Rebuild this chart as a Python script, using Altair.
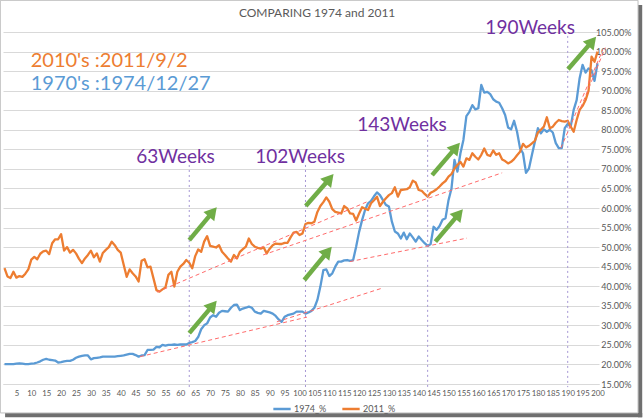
import altair as alt
import pandas as pd

# ---------------- data ----------------
weeks = list(range(1, 201))

s2011 = [
    44.6, 42.5, 42.1, 43.7, 42.2, 42.6, 42.4, 43.2, 44.3, 46.8,
    47.5, 46.9, 48.3, 48.9, 49.1, 48.2, 51.0, 52.0, 52.0, 53.3,
    49.1, 50.0, 48.6, 49.3, 48.4, 47.0, 45.9, 47.1, 48.0, 49.1,
    47.4, 48.4, 46.3, 48.5, 49.3, 50.0, 51.4, 50.5, 49.3, 48.6,
    45.5, 42.4, 44.3, 43.3, 42.5, 41.2, 46.5, 46.9, 44.8, 45.0,
    42.0, 39.0, 38.6, 39.2, 39.7, 42.9, 43.7, 39.9, 43.7, 45.0,
    45.7, 46.7, 46.0, 44.6, 47.7, 49.4, 48.8, 51.4, 52.8, 50.3,
    50.1, 49.9, 50.5, 48.8, 48.0, 47.1, 46.3, 48.0, 47.1, 48.8,
    49.5, 50.1, 52.2, 50.8, 50.1, 49.8, 49.6, 49.9, 48.4, 49.6,
    50.5, 50.9, 50.8, 50.8, 51.1, 51.1, 52.5, 53.7, 53.9, 53.1,
    53.5, 55.9, 56.2, 56.1, 56.5, 59.0, 60.5, 61.5, 62.7, 61.6,
    59.7, 59.0, 58.8, 58.6, 60.5, 59.9, 58.6, 58.5, 56.8, 58.6,
    60.2, 59.8, 59.5, 61.2, 62.0, 62.9, 60.5, 61.6, 62.5, 63.3,
    63.8, 65.3, 62.9, 64.6, 64.7, 64.8, 65.3, 67.0, 66.5, 64.6,
    64.4, 63.6, 62.9, 63.9, 64.3, 64.8, 65.5, 66.3, 66.9, 68.0,
    68.7, 70.1, 71.0, 71.8, 70.6, 72.7, 72.3, 74.0, 73.1, 72.4,
    73.6, 75.2, 73.6, 73.3, 74.7, 73.6, 74.0, 72.4, 72.0, 71.4,
    71.8, 72.5, 73.5, 74.4, 76.4, 75.5, 75.9, 76.5, 77.2, 79.3,
    80.0, 80.8, 83.2, 80.4, 80.8, 81.8, 82.5, 82.2, 82.1, 82.3,
    80.8, 79.5, 82.5, 85.1, 86.1, 87.6, 90.0, 98.7, 97.4, 100.0,
]

s1974 = [
    20.1, 20.1, 20.1, 20.1, 20.2, 20.3, 20.2, 20.1, 20.1, 20.2,
    20.3, 20.5, 20.8, 21.2, 21.4, 21.2, 21.1, 21.0, 20.5, 20.6,
    20.8, 20.9, 20.9, 21.2, 21.7, 22.0, 22.2, 22.3, 22.3, 21.3,
    21.6, 21.7, 21.8, 22.0, 22.0, 22.0, 22.0, 22.0, 22.1, 22.2,
    22.3, 22.5, 22.7, 22.7, 22.4, 22.0, 22.3, 22.4, 23.7, 23.7,
    23.8, 24.5, 24.4, 25.0, 24.8, 25.0, 25.0, 25.1, 25.0, 25.1,
    25.1, 25.1, 25.5, 25.7, 26.0, 27.0, 29.0, 30.0, 30.5, 32.0,
    32.6, 32.2, 33.2, 33.7, 33.6, 33.5, 34.5, 35.2, 35.3, 33.9,
    34.3, 34.5, 34.8, 34.5, 33.5, 33.2, 33.0, 33.7, 33.5, 33.3,
    33.0, 32.4, 31.5, 30.9, 32.2, 32.6, 32.8, 33.0, 33.5, 33.5,
    33.5, 33.0, 33.3, 33.7, 34.5, 36.5, 39.9, 44.1, 44.3, 42.6,
    43.3, 45.0, 46.3, 46.3, 46.6, 46.7, 46.5, 46.7, 50.1, 53.9,
    56.9, 59.5, 61.2, 61.8, 63.0, 64.0, 63.3, 62.0, 60.8, 60.4,
    56.5, 54.0, 53.5, 52.2, 53.7, 52.0, 53.5, 52.5, 51.4, 52.7,
    51.8, 51.0, 50.3, 50.8, 55.2, 54.4, 55.4, 57.0, 57.4, 62.0,
    65.0, 72.3, 69.3, 74.0, 77.4, 83.5, 84.6, 86.3, 85.2, 85.5,
    91.5, 89.5, 89.7, 89.1, 87.8, 87.2, 86.9, 85.5, 83.8, 80.6,
    80.1, 82.3, 79.5, 75.3, 74.0, 69.0, 70.1, 73.6, 77.0, 80.4,
    79.1, 80.1, 79.5, 80.0, 79.3, 76.6, 75.3, 75.3, 80.4, 81.5,
    80.8, 85.1, 87.6, 93.2, 96.6, 94.6, 95.7, 95.2, 92.5, 97.0,
]

series_names = ["1974_%", "2011_%"]
series_colors = ["#5B9BD5", "#ED7D31"]

x_ticks = list(range(5, 201, 5))
y_ticks = list(range(15, 106, 5))

# marker weeks and their labels
mark_weeks = [63, 102, 143, 190]
mark_tops = [71.0, 71.0, 78.7, 104.0]
mark_texts = ["63Weeks", "102Weeks", "143Weeks", "190Weeks"]
mark_text_x = [58.4, 100.2, 134.4, 177.4]
mark_text_y = [73.0, 73.0, 81.2, 106.0]

# green arrows (tail -> head) in week / percent units
arrow_x = [63.0, 63.0, 102.1, 101.6, 144.5, 145.6, 190.1]
arrow_y = [51.8, 28.0, 60.5, 41.6, 68.4, 51.4, 95.5]
arrow_x2 = [70.9, 70.9, 110.1, 109.5, 152.5, 153.5, 198.2]
arrow_y2 = [59.0, 35.1, 67.5, 48.9, 75.5, 58.5, 102.6]

# red dashed trend lines
trend_x = [52.2, 87.8, 46.5, 92.4, 116.9, 187.7, 193.5]
trend_y = [38.5, 48.0, 22.0, 30.9, 46.3, 75.3, 84.0]
trend_x2 = [123.3, 168.0, 102.5, 127.7, 156.2, 201.8, 202.6]
trend_y2 = [61.8, 69.0, 32.1, 39.5, 52.3, 100.5, 101.0]

# ---------------- tables ----------------
df = pd.DataFrame({
    "week": weeks * 2,
    "value": s1974 + s2011,
    "series": [series_names[0]] * 200 + [series_names[1]] * 200,
})
vl = pd.DataFrame({"x": mark_weeks, "top": mark_tops, "bottom": [14.2] * 4})
lab = pd.DataFrame({"x": mark_text_x, "y": mark_text_y, "t": mark_texts})
arr = pd.DataFrame({"x": arrow_x, "y": arrow_y, "x2": arrow_x2, "y2": arrow_y2})
tr = pd.DataFrame({"x": trend_x, "y": trend_y, "x2": trend_x2, "y2": trend_y2})

FONT = "Lato"
xs = alt.Scale(domain=[0.5, 200.5], nice=False, zero=False)
ys = alt.Scale(domain=[15, 105], nice=False, zero=False)

x_axis = alt.Axis(values=x_ticks, title=None, grid=False, ticks=False,
                  labelFontSize=7.8, labelColor="#595959", labelFont=FONT,
                  labelPadding=5, domainColor="#d9d9d9", labelFlush=False,
                  labelOverlap=False)
y_axis = alt.Axis(orient="right", values=y_ticks, title=None, grid=True,
                  gridColor="#d9d9d9", ticks=False, domain=False,
                  labelExpr="format(datum.value, '.2f') + '%'",
                  labelAlign="right", labelPadding=32, labelFontSize=9,
                  labelColor="#595959", labelFont=FONT)

X = lambda f: alt.X(f, type="quantitative", scale=xs, axis=x_axis)
Y = lambda f: alt.Y(f, type="quantitative", scale=ys, axis=y_axis)

lines = alt.Chart(df).mark_line(strokeWidth=2.3, strokeJoin="round").encode(
    x=X("week"),
    y=Y("value"),
    color=alt.Color("series:N",
                    scale=alt.Scale(domain=series_names, range=series_colors),
                    legend=alt.Legend(orient="none", legendX=267, legendY=365,
                                      direction="horizontal", title=None,
                                      symbolType="stroke", symbolSize=300,
                                      symbolStrokeWidth=2.5, labelFontSize=9,
                                      labelColor="#595959", labelFont=FONT,
                                      columnPadding=10, labelOffset=2,
                                      padding=2)),
    order=alt.Order("series:N"),
)

vlines = alt.Chart(vl).mark_rule(color="#A596D4", strokeWidth=1, strokeDash=[2, 3]).encode(
    x=X("x"), y=Y("top"), y2="bottom")

trends = alt.Chart(tr).mark_rule(color="#FF6B6B", strokeWidth=1, strokeDash=[4, 3]).encode(
    x=X("x"), y=Y("y"), x2="x2", y2="y2")

shafts = alt.Chart(arr).mark_rule(color="#70AD47", strokeWidth=4.5).encode(
    x=X("x"), y=Y("y"), x2="x2", y2="y2")

heads = alt.Chart(arr).mark_point(shape="triangle-up", filled=True, size=200,
                                  angle=40, color="#70AD47", opacity=1, strokeWidth=0).encode(
    x=X("x2"), y=Y("y2"))

labels = alt.Chart(lab).mark_text(font=FONT, fontSize=19, color="#7030A0",
                                  align="center", baseline="middle").encode(
    x=X("x"), y=Y("y"), text="t:N")

info = pd.DataFrame({
    "x": [9.8, 9.8, 105.9],
    "y": [97.7, 91.7, 109.9],
    "t": ["2010's :2011/9/2", "1970's :1974/12/27", "COMPARING 1974 and 2011"],
    "c": ["#ED7D31", "#5B9BD5", "#595959"],
})
info_big = alt.Chart(info.iloc[:2]).mark_text(font=FONT, fontSize=20, align="left",
                                              baseline="middle").encode(
    x=X("x"), y=Y("y"), text="t:N", color=alt.Color("c:N", scale=None))
title_txt = alt.Chart(info.iloc[2:]).mark_text(font=FONT, fontSize=12, align="center",
                                               baseline="middle", color="#595959").encode(
    x=X("x"), y=Y("y"), text="t:N")

# frame with shadow (in week / percent units)
frame = pd.DataFrame({"x": [-0.4], "x2": [213.6], "y": [113.1], "y2": [7.6]})
shadow = pd.DataFrame({"x": [213.6, 1.2], "x2": [215.0, 215.0],
                       "y": [111.9, 7.6], "y2": [6.5, 6.5]})
frame_l = alt.Chart(frame).mark_rect(fill=None, stroke="#bfbfbf", strokeWidth=1).encode(
    x=X("x"), x2="x2", y=Y("y"), y2="y2")
shadow_l = alt.Chart(shadow).mark_rect(color="#6f6f6f").encode(
    x=X("x"), x2="x2", y=Y("y"), y2="y2")

chart = alt.layer(
    shadow_l, frame_l, lines, vlines, trends, shafts, heads, labels, info_big, title_txt
).properties(
    width=596, height=352,
    autosize=alt.AutoSizeParams(type="none"),
    padding={"left": 3, "top": 32, "right": 45, "bottom": 35},
    background="white",
).configure_view(stroke=None)

chart.save("out.html", embed_options={"renderer": "svg", "actions": False})
